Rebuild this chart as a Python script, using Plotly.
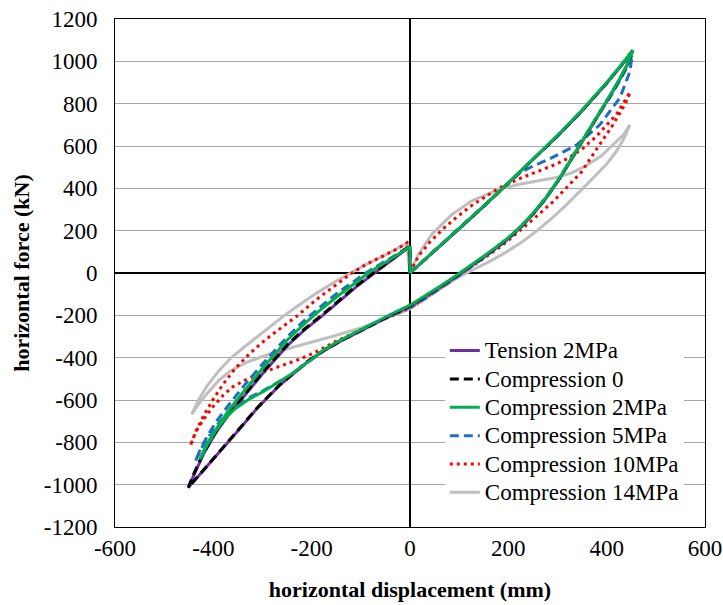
import plotly.graph_objects as go

# ---------------- data (displacement mm, force kN) ----------------
# each loop: origin -> loading to + peak -> unloading -> lower branch to - peak
#            -> reloading up to x=0 -> back to origin
tension2_x = [0, 50, 100, 150, 200, 250, 300, 350, 400, 430, 453,
              442, 428, 410, 386, 359, 332, 305, 275, 250, 227, 200, 159, 125, 92, 58, 30, 0,
              -40, -75, -110, -142, -175, -210, -235, -264, -285, -312, -345, -380, -420, -451,
              -440, -420, -395, -366, -335, -298, -249, -215, -180, -145, -110, -75, -40, -7, 0, 0]
tension2_y = [0, 103, 209, 315, 424, 533, 646, 766, 896, 980, 1048,
              983, 920, 848, 758, 653, 550, 448, 348, 278, 220, 163, 90, 33, -20, -72, -114, -158,
              -202, -243, -284, -323, -367, -422, -472, -528, -577, -642, -732, -827, -932, -1014,
              -955, -855, -755, -660, -575, -470, -342, -270, -205, -135, -67, -5, 55, 113, 120, 0]

comp0_x = [0, 50, 100, 150, 200, 250, 300, 350, 400, 430, 453,
           442, 428, 410, 386, 359, 332, 305, 275, 250, 227, 200, 159, 125, 92, 58, 30, 0,
           -40, -75, -110, -142, -175, -210, -235, -264, -285, -312, -345, -380, -420, -451,
           -440, -420, -395, -366, -335, -298, -249, -215, -180, -145, -110, -75, -40, -7, 0, 0]
comp0_y = [0, 104, 210, 316, 425, 535, 648, 768, 898, 982, 1052,
           985, 922, 850, 760, 655, 552, 450, 350, 280, 222, 165, 92, 35, -18, -70, -112, -156,
           -200, -241, -282, -321, -365, -420, -470, -526, -575, -640, -730, -825, -930, -1014,
           -950, -850, -750, -655, -570, -465, -337, -265, -200, -130, -62, 0, 60, 118, 125, 0]

comp2_x = [0, 50, 100, 150, 200, 250, 300, 350, 400, 430, 453,
           442, 428, 410, 386, 359, 332, 305, 275, 250, 227, 200, 159, 125, 92, 58, 30, 0,
           -40, -75, -110, -142, -175, -200, -244, -298, -330, -355, -375, -395, -412, -427,
           -415, -395, -366, -335, -298, -249, -215, -180, -145, -110, -85, -40, -7, 0, 0]
comp2_y = [0, 105, 211, 317, 426, 536, 650, 770, 900, 984, 1052,
           987, 924, 852, 762, 657, 554, 452, 352, 282, 224, 167, 94, 37, -15, -67, -109, -152,
           -196, -238, -279, -318, -362, -408, -482, -560, -600, -640, -685, -745, -810, -880,
           -815, -740, -640, -550, -445, -315, -240, -170, -105, -45, 0, 65, 115, 125, 0]

comp5_x = [0, 50, 100, 150, 200, 224, 250, 285, 339, 386, 427, 447, 452,
           442, 428, 410, 386, 359, 332, 305, 275, 250, 227, 200, 159, 125, 92, 58, 30, 0,
           -40, -75, -110, -142, -175, -200, -244, -298, -330, -355, -378, -400, -420, -437,
           -425, -413, -395, -366, -335, -298, -249, -215, -180, -145, -110, -90, -40, -7, 0, 0]
comp5_y = [0, 104, 210, 316, 425, 474, 505, 540, 605, 700, 828, 950, 1030,
           975, 915, 842, 758, 660, 556, 450, 350, 278, 220, 160, 88, 30, -24, -78, -122, -162,
           -203, -244, -284, -322, -366, -410, -484, -555, -592, -632, -680, -740, -810, -891,
           -825, -775, -705, -615, -525, -425, -300, -225, -155, -90, -30, 0, 70, 115, 125, 0]

comp10_x = [0, 10, 20, 40, 68, 92, 125, 180, 227, 260, 295, 320, 350, 380, 420, 448,
            438, 425, 410, 386, 360, 349, 315, 290, 261, 230, 193, 160, 125, 92, 60, 30, 0,
            -40, -80, -115, -149, -197, -230, -264, -300, -332, -360, -380, -400, -420, -435, -447,
            -435, -420, -400, -380, -355, -330, -305, -280, -258, -228, -190, -155, -122, -90, -54, -25, -3, 0]
comp10_y = [0, 50, 88, 145, 210, 258, 318, 400, 450, 480, 512, 540, 585, 648, 750, 855,
            800, 748, 690, 608, 515, 478, 395, 335, 275, 212, 140, 85, 30, -20, -68, -118, -165,
            -205, -245, -285, -321, -380, -412, -440, -470, -502, -537, -578, -630, -692, -748, -817,
            -745, -675, -595, -525, -450, -390, -337, -290, -250, -200, -125, -62, -6, 40, 82, 115, 148, 0]

comp14_x = [0, 17, 44, 85, 125, 180, 220, 260, 300, 330, 359, 390, 414, 435, 447,
            435, 420, 400, 373, 345, 319, 290, 261, 230, 193, 160, 125, 90, 55, 25, 0,
            -50, -100, -156, -215, -280, -330, -365, -390, -413, -430, -444,
            -430, -413, -390, -366, -340, -310, -280, -258, -225, -190, -155, -122, -90, -54, -25, -7, 0]
comp14_y = [0, 88, 182, 276, 340, 395, 418, 436, 452, 474, 508, 555, 606, 655, 700,
            635, 576, 515, 450, 385, 324, 262, 205, 150, 95, 52, 12, -32, -85, -130, -170,
            -215, -260, -298, -337, -378, -420, -462, -510, -570, -620, -668,
            -600, -534, -465, -405, -355, -300, -245, -205, -150, -95, -45, 0, 40, 80, 115, 140, 0]

series = [
    # name, x, y, colour, dash, legend rank   (listed in drawing order)
    ("Compression 14MPa", comp14_x, comp14_y, "#BFBFBF", "solid", 6),
    ("Compression 10MPa", comp10_x, comp10_y, "#FF0000", "3px,4px", 5),
    ("Compression 5MPa", comp5_x, comp5_y, "#1F6FBF", "9px,5px", 4),
    ("Tension 2MPa", tension2_x, tension2_y, "#7030A0", "solid", 1),
    ("Compression 0", comp0_x, comp0_y, "#000000", "9px,5px", 2),
    ("Compression 2MPa", comp2_x, comp2_y, "#00B050", "solid", 3),
]

x_ticks = [-600, -400, -200, 0, 200, 400, 600]
y_ticks = [-1200, -1000, -800, -600, -400, -200, 0, 200, 400, 600, 800, 1000, 1200]

serif = "Liberation Serif"
fig = go.Figure()
for name, xs, ys, color, dash, rank in series:
    fig.add_trace(go.Scatter(
        x=xs, y=ys, mode="lines",
        name='<span style="font-size:23px">' + name + "</span>",
        line=dict(color=color, width=3, dash=dash),
        legendrank=rank,
    ))

fig.update_layout(
    width=723, height=605,
    margin=dict(l=115, r=18, t=19, b=78, autoexpand=False),
    paper_bgcolor="white", plot_bgcolor="white",
    font=dict(family=serif, size=23, color="black"),
    showlegend=True,
    legend=dict(
        x=0.559, y=0.385, xanchor="left", yanchor="top",
        bgcolor="white", borderwidth=0,
        font=dict(family=serif, size=19.5, color="black"),
        traceorder="normal",
    ),
    xaxis=dict(
        range=[-600, 600], tickvals=x_ticks, ticktext=[str(v) for v in x_ticks],
        showgrid=False, zeroline=True, zerolinecolor="black", zerolinewidth=1.5,
        showline=True, linecolor="black", linewidth=1, mirror=True,
        ticks="", tickfont=dict(family=serif, size=23), automargin=False,
        title=dict(text="<b>horizontal displacement (mm)</b>",
                   font=dict(family=serif, size=22), standoff=22),
    ),
    yaxis=dict(
        range=[-1200, 1200], tickvals=y_ticks, ticktext=[str(v) for v in y_ticks],
        showgrid=True, gridcolor="#A6A6A6", gridwidth=1,
        zeroline=True, zerolinecolor="black", zerolinewidth=1.5,
        showline=True, linecolor="black", linewidth=1, mirror=True,
        ticks="", tickfont=dict(family=serif, size=23), ticklabelstandoff=12,
        automargin=False,
        title=dict(text="<b>horizontal force (kN)</b>",
                   font=dict(family=serif, size=22), standoff=8),
    ),
)

fig.write_html("out.html")
